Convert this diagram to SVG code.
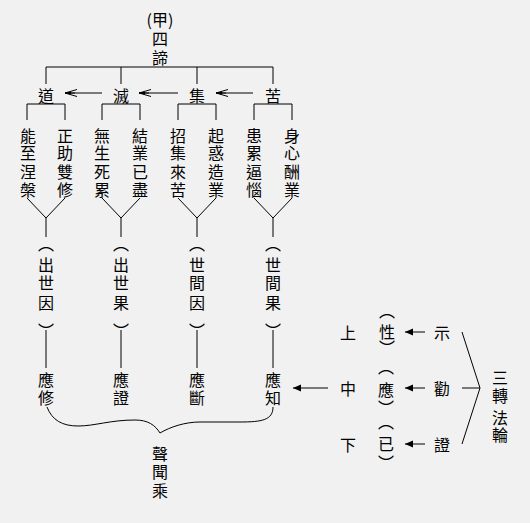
<svg xmlns="http://www.w3.org/2000/svg" width="530" height="523" viewBox="0 0 530 523">
<style>
.t{font-family:"Noto Sans CJK TC","Noto Sans CJK SC",sans-serif;font-size:16px;fill:#000;text-anchor:middle}
.ln{stroke:#000;stroke-width:1;fill:none}
.tx{opacity:0.99}
</style>
<defs>
<marker id="oa" markerUnits="userSpaceOnUse" viewBox="0 -5 15 10" refX="14" refY="0" markerWidth="15" markerHeight="10" orient="auto">
<path d="M14,0 L2,-3.5 M14,0 L2,3.5 M14,0 L4,0" stroke="#000" stroke-width="1" fill="none"/>
<path d="M14,0 L8,-1.5 L8,1.5 Z" fill="#000"/>
</marker>
<marker id="fa" markerUnits="userSpaceOnUse" viewBox="0 -4 8 8" refX="8" refY="0" markerWidth="8" markerHeight="8" orient="auto">
<path d="M8,0 L0,-3.5 L0,3.5 Z" fill="#000"/>
</marker>
</defs>
<rect width="530" height="523" fill="#f1f1f1"/>

<g id="connectors">
<path class="ln" d="M46,84 V67 H273 V84 M121,67 V84 M197,67 V84"/>
<line class="ln" x1="102" y1="93" x2="65" y2="93" marker-end="url(#oa)"/>
<line class="ln" x1="178" y1="93" x2="139" y2="93" marker-end="url(#oa)"/>
<line class="ln" x1="253" y1="93" x2="216" y2="93" marker-end="url(#oa)"/>
<path class="ln" d="M27,120 V104 H65 V120 M102,120 V104 H140 V120 M178,120 V104 H216 V120 M254,120 V104 H292 V120"/>
<path class="ln" d="M27,198 L46,218 L65,198 M46,218 V237 M102,198 L121,218 L140,198 M121,218 V237 M178,198 L197,218 L216,198 M197,218 V237 M254,198 L273,218 L292,198 M273,218 V237"/>
<path class="ln" d="M46,330 V368 M121,330 V368 M197,330 V368 M273,330 V368"/>
<path class="ln" d="M47,407 C52,420 62,426 78,426 C95,426 110,420 135,420 C148,420 155,425 160,433 C170,427 185,422 200,422 L240,422 C262,422 273,420 273,407"/>
<line class="ln" x1="328" y1="388" x2="293" y2="388" marker-end="url(#fa)"/>
<line class="ln" x1="425" y1="332" x2="405" y2="332" marker-end="url(#fa)"/>
<line class="ln" x1="425" y1="388" x2="405" y2="388" marker-end="url(#fa)"/>
<line class="ln" x1="425" y1="444" x2="405" y2="444" marker-end="url(#fa)"/>
<path class="ln" d="M462,332 L480,388 L462,444 M462,388 H480"/>
</g>

<g class="tx">
<g id="title">
<text class="t" x="160" y="26">(甲)</text>
<text class="t" x="160" y="45">四</text>
<text class="t" x="160" y="64">諦</text>
</g>

<g id="dao"><text class="t" x="46" y="102">道</text></g>
<g id="mie"><text class="t" x="121" y="102">滅</text></g>
<g id="ji"><text class="t" x="197" y="102">集</text></g>
<g id="ku"><text class="t" x="273" y="102">苦</text></g>

<g id="c1"><text class="t" x="28" y="141.5">能</text><text class="t" x="28" y="159">至</text><text class="t" x="28" y="177.5">涅</text><text class="t" x="28" y="195.5">槃</text></g>
<g id="c2"><text class="t" x="65" y="141.5">正</text><text class="t" x="65" y="159">助</text><text class="t" x="65" y="177.5">雙</text><text class="t" x="65" y="195.5">修</text></g>
<g id="c3"><text class="t" x="102" y="141.5">無</text><text class="t" x="102" y="159">生</text><text class="t" x="102" y="177.5">死</text><text class="t" x="102" y="195.5">累</text></g>
<g id="c4"><text class="t" x="140" y="141.5">結</text><text class="t" x="140" y="159">業</text><text class="t" x="140" y="177.5">已</text><text class="t" x="140" y="195.5">盡</text></g>
<g id="c5"><text class="t" x="178" y="141.5">招</text><text class="t" x="178" y="159">集</text><text class="t" x="178" y="177.5">來</text><text class="t" x="178" y="195.5">苦</text></g>
<g id="c6"><text class="t" x="216" y="141.5">起</text><text class="t" x="216" y="159">惑</text><text class="t" x="216" y="177.5">造</text><text class="t" x="216" y="195.5">業</text></g>
<g id="c7"><text class="t" x="254" y="141.5">患</text><text class="t" x="254" y="159">累</text><text class="t" x="254" y="177.5">逼</text><text class="t" x="254" y="195.5">惱</text></g>
<g id="c8"><text class="t" x="292" y="141.5">身</text><text class="t" x="292" y="159">心</text><text class="t" x="292" y="177.5">酬</text><text class="t" x="292" y="195.5">業</text></g>

<g id="p1"><text class="t" x="46" y="250">︵</text><text class="t" x="46" y="271">出</text><text class="t" x="46" y="289">世</text><text class="t" x="46" y="309">因</text><text class="t" x="46" y="337">︶</text></g>
<g id="p2"><text class="t" x="121" y="250">︵</text><text class="t" x="121" y="271">出</text><text class="t" x="121" y="289">世</text><text class="t" x="121" y="309">果</text><text class="t" x="121" y="337">︶</text></g>
<g id="p3"><text class="t" x="197" y="250">︵</text><text class="t" x="197" y="271">世</text><text class="t" x="197" y="289">間</text><text class="t" x="197" y="309">因</text><text class="t" x="197" y="337">︶</text></g>
<g id="p4"><text class="t" x="273" y="250">︵</text><text class="t" x="273" y="271">世</text><text class="t" x="273" y="289">間</text><text class="t" x="273" y="309">果</text><text class="t" x="273" y="337">︶</text></g>

<g id="y1"><text class="t" x="46" y="386">應</text><text class="t" x="46" y="404">修</text></g>
<g id="y2"><text class="t" x="121" y="386">應</text><text class="t" x="121" y="404">證</text></g>
<g id="y3"><text class="t" x="197" y="386">應</text><text class="t" x="197" y="404">斷</text></g>
<g id="y4"><text class="t" x="273" y="386">應</text><text class="t" x="273" y="404">知</text></g>

<g id="shengwen"><text class="t" x="160" y="460">聲</text><text class="t" x="160" y="478">聞</text><text class="t" x="160" y="497">乘</text></g>

<g id="shang"><text class="t" x="348" y="338.5">上</text></g>
<g id="zhong"><text class="t" x="348" y="395">中</text></g>
<g id="xia"><text class="t" x="348" y="450.5">下</text></g>

<g id="xing"><text class="t" x="387" y="317">︵</text><text class="t" x="387" y="338">性</text><text class="t" x="387" y="354">︶</text></g>
<g id="ying"><text class="t" x="386" y="373">︵</text><text class="t" x="386" y="395.5">應</text><text class="t" x="386" y="414">︶</text></g>
<g id="yi"><text class="t" x="386" y="428">︵</text><text class="t" x="386" y="450">已</text><text class="t" x="386" y="469">︶</text></g>

<g id="shi"><text class="t" x="442" y="338.5">示</text></g>
<g id="quan"><text class="t" x="442" y="395">勸</text></g>
<g id="zheng"><text class="t" x="442" y="450.5">證</text></g>

<g id="sanzhuan"><text class="t" x="500" y="384">三</text><text class="t" x="500" y="402">轉</text><text class="t" x="500" y="424">法</text><text class="t" x="500" y="441">輪</text></g>
</g>
</svg>
